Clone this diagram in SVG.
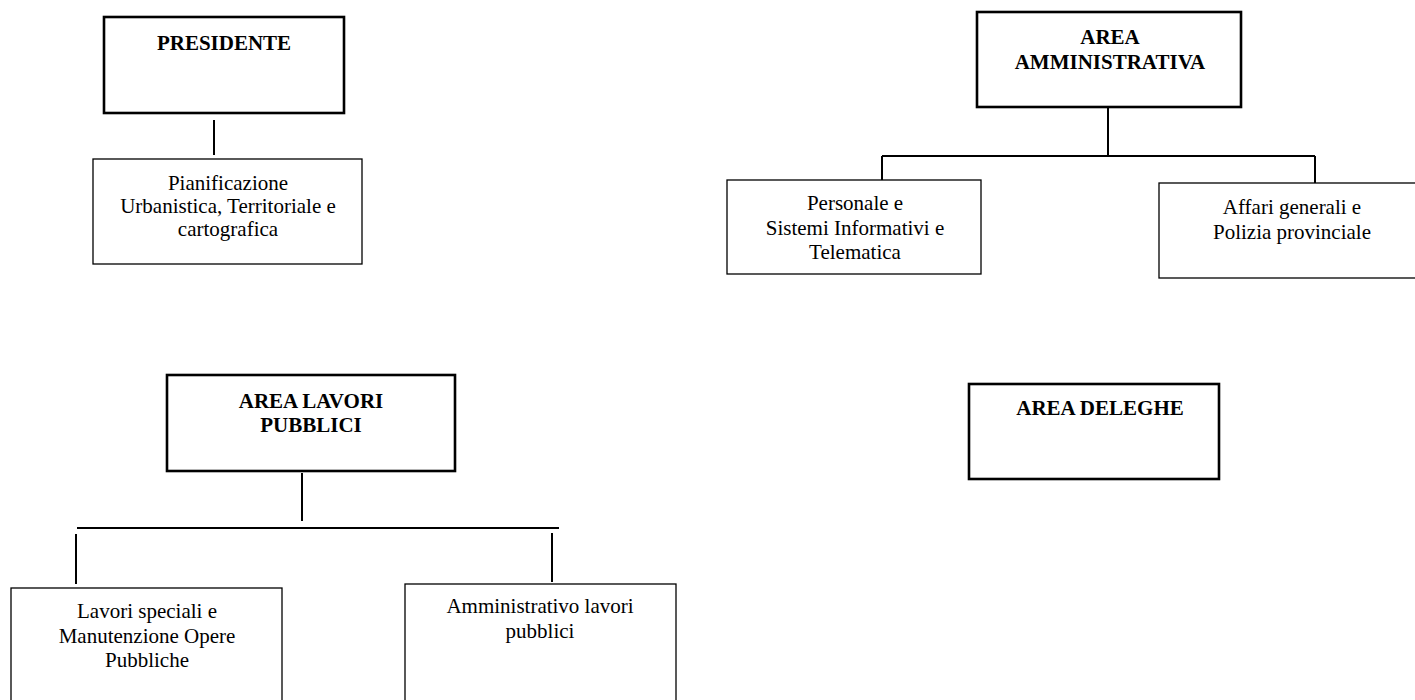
<svg xmlns="http://www.w3.org/2000/svg" width="1415" height="700" viewBox="0 0 1415 700">
<style>
.bg{fill:#ffffff}
.head{fill:#ffffff;stroke:#000000;stroke-width:2.6}
.unit{fill:#ffffff;stroke:#000000;stroke-width:1.3}
.conn line{stroke:#000000;stroke-width:2}
text{font-family:"Liberation Serif","Times New Roman",serif;font-size:21px;fill:#000000;text-anchor:middle}
.b{font-weight:bold}
</style>
<rect class="bg" x="0" y="0" width="1415" height="700"/>
<g id="connectors" class="conn">
<line x1="214" y1="120" x2="214" y2="155"/>
<line x1="1108" y1="107" x2="1108" y2="156"/>
<line x1="882" y1="156" x2="1315" y2="156"/>
<line x1="882" y1="156" x2="882" y2="180"/>
<line x1="1315" y1="156" x2="1315" y2="183"/>
<line x1="302" y1="473" x2="302" y2="521"/>
<line x1="77" y1="528" x2="559" y2="528"/>
<line x1="76" y1="534" x2="76" y2="584"/>
<line x1="552" y1="533" x2="552" y2="582"/>
</g>
<g id="presidente">
<rect class="head" x="104" y="17" width="240" height="96"/>
<text class="b" x="224" y="50">PRESIDENTE</text>
</g>
<g id="pianificazione">
<rect class="unit" x="93" y="159" width="269" height="105"/>
<text x="228" y="190">Pianificazione</text>
<text x="228" y="213">Urbanistica, Territoriale e</text>
<text x="228" y="236">cartografica</text>
</g>
<g id="area-amministrativa">
<rect class="head" x="977" y="12" width="264" height="95"/>
<text class="b" x="1110" y="44">AREA</text>
<text class="b" x="1110" y="69">AMMINISTRATIVA</text>
</g>
<g id="personale">
<rect class="unit" x="727" y="180" width="254" height="94"/>
<text x="855" y="210">Personale e</text>
<text x="855" y="235">Sistemi Informativi e</text>
<text x="855" y="259">Telematica</text>
</g>
<g id="affari-generali">
<rect class="unit" x="1159" y="183" width="270" height="95"/>
<text x="1292" y="214">Affari generali e</text>
<text x="1292" y="239">Polizia provinciale</text>
</g>
<g id="area-lavori-pubblici">
<rect class="head" x="167" y="375" width="288" height="96"/>
<text class="b" x="311" y="408">AREA LAVORI</text>
<text class="b" x="311" y="432">PUBBLICI</text>
</g>
<g id="lavori-speciali">
<rect class="unit" x="11" y="588" width="271" height="130"/>
<text x="147" y="618">Lavori speciali e</text>
<text x="147" y="643">Manutenzione Opere</text>
<text x="147" y="667">Pubbliche</text>
</g>
<g id="amministrativo-lavori">
<rect class="unit" x="405" y="584" width="271" height="130"/>
<text x="540" y="613">Amministrativo lavori</text>
<text x="540" y="638">pubblici</text>
</g>
<g id="area-deleghe">
<rect class="head" x="969" y="384" width="250" height="95"/>
<text class="b" x="1100" y="415">AREA DELEGHE</text>
</g>
</svg>
